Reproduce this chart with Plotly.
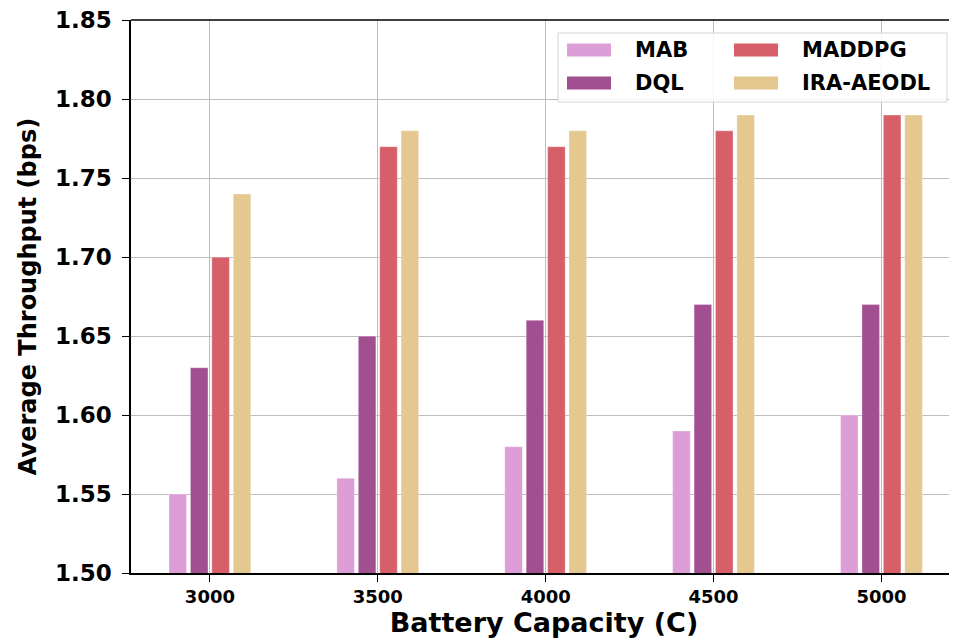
import plotly.graph_objects as go

categories = ["3000", "3500", "4000", "4500", "5000"]
series_names = ["MAB", "DQL", "MADDPG", "IRA-AEODL"]
mab = [1.55, 1.56, 1.58, 1.59, 1.60]
dql = [1.63, 1.65, 1.66, 1.67, 1.67]
maddpg = [1.70, 1.77, 1.77, 1.78, 1.79]
ira_aeodl = [1.74, 1.78, 1.78, 1.79, 1.79]
y_ticks = [1.50, 1.55, 1.60, 1.65, 1.70, 1.75, 1.80, 1.85]

colors = ["#DD9DD6", "#A24F92", "#D75F69", "#E5C88F"]
values = [mab, dql, maddpg, ira_aeodl]

font_family = "DejaVu Sans"

# layout geometry (figure pixels); page has an 8px body offset
L, T, R, B = 123, 12, 8, 75
FW, FH = 957, 640
W, H = FW - L - R, FH - T - B
OFF = 8


def px(xp):
    return (xp - OFF - L) / W


def py(yp):
    return (T + H - (yp - OFF)) / H


fig = go.Figure()
for name, vals, col in zip(series_names, values, colors):
    fig.add_trace(go.Bar(
        x=categories, y=vals, name=name,
        marker=dict(color=col, line=dict(color="rgba(255,255,255,0.6)", width=0.5)),
        showlegend=False,
    ))

shapes = [dict(type="line", xref="paper", yref="paper", x0=0, x1=1, y0=1, y1=1,
               line=dict(color="black", width=1.5))]
annotations = []

# legend box (matplotlib-style, two columns)
shapes.append(dict(type="rect", xref="paper", yref="paper",
                   x0=px(558), x1=px(947), y0=py(102), y1=py(33),
                   fillcolor="rgba(255,255,255,0.85)", line=dict(color="#d4d4d4", width=1),
                   layer="above"))
legend_cols = [567, 734]
legend_rows = [50, 83]
for i in range(len(series_names)):
    cx = legend_cols[i // 2]
    cy = legend_rows[i % 2]
    shapes.append(dict(type="rect", xref="paper", yref="paper",
                       x0=px(cx), x1=px(cx + 44), y0=py(cy + 6.5), y1=py(cy - 6.5),
                       fillcolor=colors[i], line=dict(width=0), layer="above"))
    annotations.append(dict(xref="paper", yref="paper", x=px(cx + 66), y=py(cy),
                            xanchor="left", yanchor="middle", showarrow=False,
                            text=series_names[i],
                            font=dict(family=font_family, size=21, color="black", weight="bold")))

fig.update_layout(
    width=FW, height=FH,
    margin=dict(l=L, r=R, t=T, b=B),
    paper_bgcolor="white", plot_bgcolor="white",
    barmode="group", bargap=0.49, bargroupgap=0.18,
    font=dict(family=font_family, color="black"),
    showlegend=False,
    xaxis=dict(
        type="category", range=[-0.47, 4.45],
        showgrid=True, gridcolor="#bdbdbd", gridwidth=1,
        showline=True, linecolor="black", linewidth=1.5,
        ticks="outside", ticklen=7, tickcolor="black", tickwidth=1.2,
        tickfont=dict(family=font_family, size=18, color="black", weight="bold"),
        title=dict(text="Battery Capacity (C)", standoff=4,
                   font=dict(family=font_family, size=27, color="black", weight="bold")),
    ),
    yaxis=dict(
        range=[1.50, 1.8502], tickvals=y_ticks, ticktext=[f"{v:.2f}" for v in y_ticks],
        showgrid=True, gridcolor="#bdbdbd", gridwidth=1,
        showline=True, linecolor="black", linewidth=1.5,
        ticks="outside", ticklen=7, tickcolor="black", tickwidth=1.2,
        tickfont=dict(family=font_family, size=23, color="black", weight="bold"),
        ticklabelstandoff=6, ticklabeloverflow="allow",
        automargin=False,
        title=dict(text="Average Throughput (bps)", standoff=12,
                   font=dict(family=font_family, size=24, color="black", weight="bold")),
        zeroline=False,
    ),
    shapes=shapes,
    annotations=annotations,
)

fig.write_html("out.html")
